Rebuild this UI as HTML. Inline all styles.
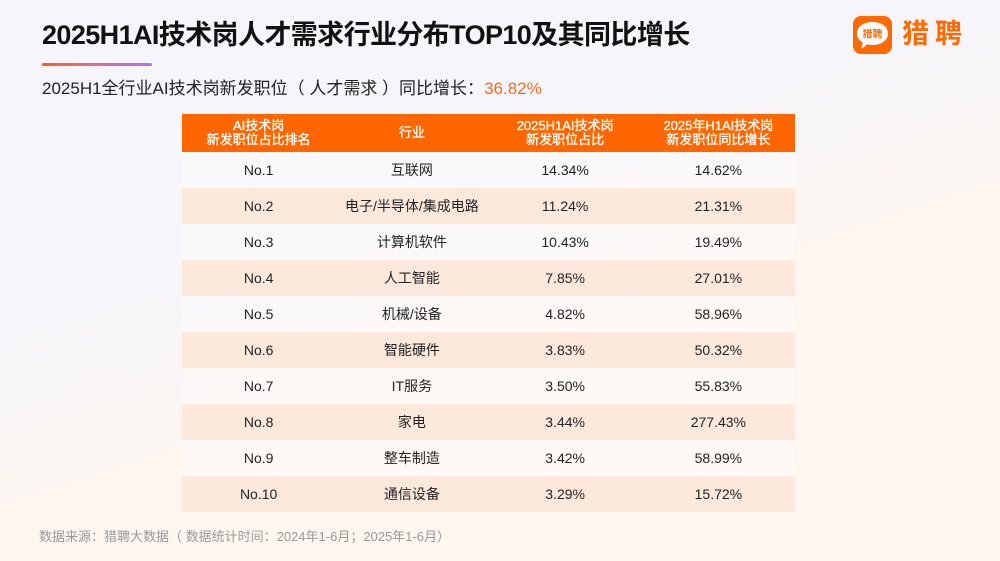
<!DOCTYPE html>
<html>
<head>
<meta charset="utf-8">
<style>
  html, body { margin:0; padding:0; }
  body {
    width:1000px; height:561px; overflow:hidden; position:relative;
    background: linear-gradient(162deg, #f5f5fa 0%, #f6f5f9 38%, #fdf6f1 58%, #fdf6f1 100%);
    font-family: "Liberation Sans", "Noto Sans CJK SC", sans-serif;
  }
  .abs { position:absolute; white-space:nowrap; }
  .title { left:42px; top:22px; font-size:27px; line-height:27px; font-weight:bold; color:#111; letter-spacing:-0.6px; }
  .bar { left:42px; top:63px; width:110px; height:3px; border-radius:2px;
         background: linear-gradient(90deg, #ff5a1a 0%, #e96a8a 45%, #b86cff 100%); }
  .sub { left:42px; top:80px; font-size:17px; line-height:17px; color:#222; }
  .sub span { color:#ff6a1a; }
  .foot { left:39px; top:530px; font-size:13px; line-height:13px; color:#999; }
  .tbl { left:182px; top:114px; width:613px; }
  .row { display:flex; height:36px; align-items:center; }
  .row div { flex:1; text-align:center; font-size:14px; color:#222; }
  .hdr { height:38px; background:#ff6600; }
  .hdr div { color:#fff; font-size:13px; line-height:14.5px; font-weight:normal; -webkit-text-stroke:0.35px #fff; }
  .sh { background:#fde9dc; }
  .wh { background:rgba(255,255,255,0.3); }
  .logo-t { left:902px; top:19px; font-size:27px; line-height:30px; color:#ff6a00; font-weight:bold; letter-spacing:6px; }
</style>
</head>
<body>
  <div class="abs title">2025H1AI技术岗人才需求行业分布TOP10及其同比增长</div>
  <div class="abs bar"></div>
  <div class="abs sub">2025H1全行业AI技术岗新发职位（ 人才需求 ）同比增长：<span>36.82%</span></div>

  <svg class="abs" style="left:853px;top:16px" width="40" height="39" viewBox="0 0 40 39">
    <rect x="0" y="0" width="39" height="38" rx="8" fill="#ff6a00"/>
    <path d="M19.5 6 C28 6 35 10.5 35 17.5 C35 24.5 28 29 19.5 29 C17.5 29 15.8 28.8 14.2 28.3 L8.5 33 L9.6 26.4 C6 24.3 4 21.2 4 17.5 C4 10.5 11 6 19.5 6 Z" fill="#fff"/>
    <text x="19.5" y="21.5" text-anchor="middle" font-size="10" font-weight="bold" fill="#ff6a00" font-family="Noto Sans CJK SC, sans-serif">猎聘</text>
  </svg>
  <div class="abs logo-t">猎聘</div>

  <div class="abs tbl">
    <div class="row hdr"><div>AI技术岗<br>新发职位占比排名</div><div>行业</div><div>2025H1AI技术岗<br>新发职位占比</div><div>2025年H1AI技术岗<br>新发职位同比增长</div></div>
    <div class="row wh"><div>No.1</div><div>互联网</div><div>14.34%</div><div>14.62%</div></div>
    <div class="row sh"><div>No.2</div><div>电子/半导体/集成电路</div><div>11.24%</div><div>21.31%</div></div>
    <div class="row wh"><div>No.3</div><div>计算机软件</div><div>10.43%</div><div>19.49%</div></div>
    <div class="row sh"><div>No.4</div><div>人工智能</div><div>7.85%</div><div>27.01%</div></div>
    <div class="row wh"><div>No.5</div><div>机械/设备</div><div>4.82%</div><div>58.96%</div></div>
    <div class="row sh"><div>No.6</div><div>智能硬件</div><div>3.83%</div><div>50.32%</div></div>
    <div class="row wh"><div>No.7</div><div>IT服务</div><div>3.50%</div><div>55.83%</div></div>
    <div class="row sh"><div>No.8</div><div>家电</div><div>3.44%</div><div>277.43%</div></div>
    <div class="row wh"><div>No.9</div><div>整车制造</div><div>3.42%</div><div>58.99%</div></div>
    <div class="row sh"><div>No.10</div><div>通信设备</div><div>3.29%</div><div>15.72%</div></div>
  </div>

  <div class="abs foot">数据来源：猎聘大数据（ 数据统计时间：2024年1-6月；2025年1-6月）</div>
</body>
</html>
